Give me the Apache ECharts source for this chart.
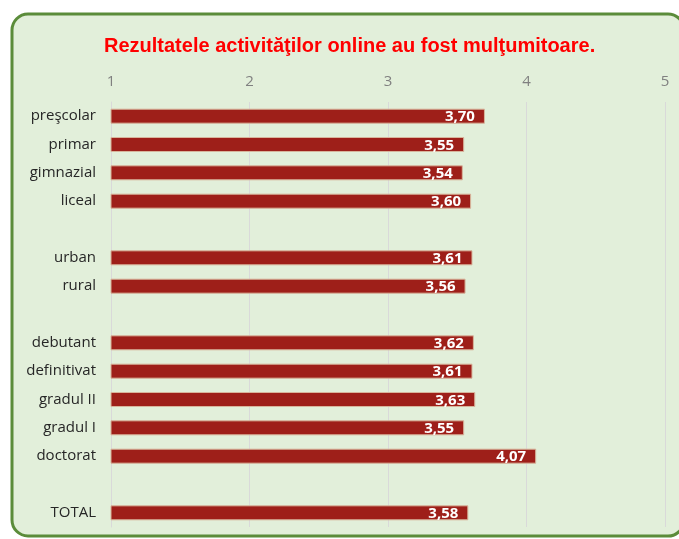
<!DOCTYPE html>
<html>
<head>
<meta charset="utf-8">
<script src="https://cdn.jsdelivr.net/npm/echarts@6/dist/echarts.min.js"></script>
<style>
html,body{margin:0;padding:0;background:#fff;}
#c{width:679px;height:539px;}
</style>
</head>
<body>
<div id="c"></div>
<script>
const categories = ['preşcolar','primar','gimnazial','liceal',' ','urban','rural','  ','debutant','definitivat','gradul II','gradul I','doctorat','   ','TOTAL'];
const values = [3.70,3.55,3.54,3.60,null,3.61,3.56,null,3.62,3.61,3.63,3.55,4.07,null,3.58];
const xTicks = [1,2,3,4,5];
const titleText = 'Rezultatele activităţilor online au fost mulţumitoare.';

const chart = echarts.init(document.getElementById('c'), null, {renderer:'canvas'});
chart.setOption({
  backgroundColor: '#ffffff',
  animation: false,
  graphic: [{
    type: 'rect',
    z: -10,
    silent: true,
    shape: {x: 12, y: 14, width: 672, height: 522, r: 16},
    style: {fill: '#E2EFDA', stroke: '#5B8C3A', lineWidth: 3}
  }],
  title: {
    text: titleText,
    left: 99,
    top: 31,
    textStyle: {color: '#FF0000', fontSize: 20, fontWeight: 'bold', fontFamily: 'Liberation Sans Narrow, Liberation Sans, sans-serif'}
  },
  grid: {left: 111, right: 14, top: 102, bottom: 12, containLabel: false},
  xAxis: {
    type: 'value',
    position: 'top',
    min: xTicks[0],
    max: xTicks[xTicks.length-1],
    interval: 1,
    axisLine: {show: false},
    axisTick: {show: false},
    axisLabel: {color: '#808080', fontSize: 15, margin: 13, fontFamily: 'Open Sans, sans-serif'},
    splitLine: {show: true, lineStyle: {color: '#D9D9D9', width: 1}}
  },
  yAxis: {
    type: 'category',
    inverse: true,
    data: categories,
    axisLine: {show: true, lineStyle: {color: '#D9D9D9'}},
    axisTick: {show: false},
    axisLabel: {color: '#262626', fontSize: 15, margin: 15, fontFamily: 'Open Sans, sans-serif'}
  },
  series: [{
    type: 'bar',
    data: values,
    barWidth: 15,
    itemStyle: {color: '#9E1F19', borderColor: '#D8B59C', borderWidth: 1},
    label: {
      show: true,
      position: 'insideRight',
      offset: [-5, 1],
      color: '#ffffff',
      fontWeight: 'bold',
      fontSize: 15,
      fontFamily: 'Open Sans, sans-serif',
      formatter: p => p.value == null ? '' : p.value.toFixed(2).replace('.', ',')
    }
  }]
});
</script>
</body>
</html>
